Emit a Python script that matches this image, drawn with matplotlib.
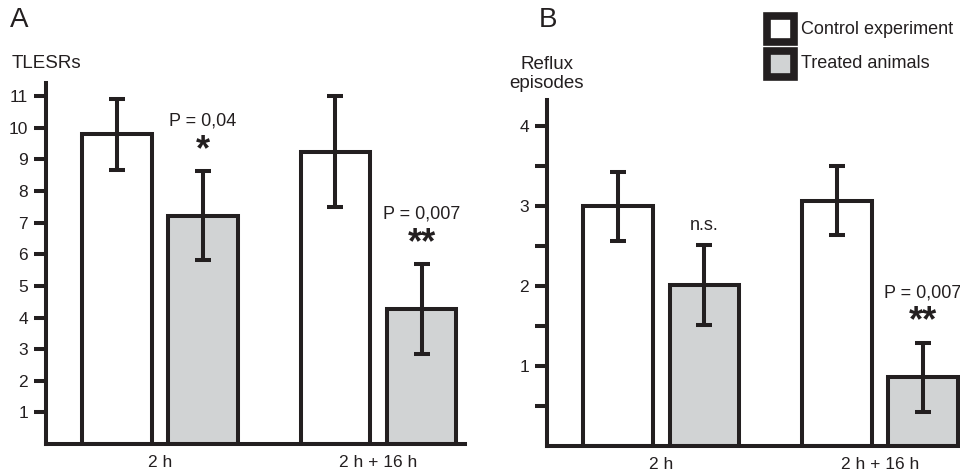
import matplotlib
matplotlib.use('Agg')
import matplotlib.pyplot as plt
from matplotlib.patches import Rectangle

plt.rcParams['font.family'] = ['Liberation Sans', 'DejaVu Sans']

# data
groups = ['2 h', '2 h + 16 h']
series = ['Control experiment', 'Treated animals']

tlesr_control = [9.8, 9.25]
tlesr_control_err = [1.12, 1.75]
tlesr_treated = [7.22, 4.27]
tlesr_treated_err = [1.41, 1.41]

reflux_control = [3.0, 3.07]
reflux_control_err = [0.43, 0.43]
reflux_treated = [2.01, 0.86]
reflux_treated_err = [0.5, 0.43]

tlesr_ticks = list(range(1, 12))
reflux_ticks = [0.5, 1, 1.5, 2, 2.5, 3, 3.5, 4]
reflux_labels = ['', '1', '', '2', '', '3', '', '4']

tlesr_notes = ['P = 0,04', 'P = 0,007']
tlesr_stars = ['*', '**']
reflux_notes = ['n.s.', 'P = 0,007']
reflux_stars = ['', '**']

ink = '#231f20'
grey = '#d1d3d4'
lw = 2.9

W, H = 960, 474
fig = plt.figure(figsize=(9.6, 4.74), dpi=100)


def px_axes(x0, x1, ybase, ytop):
    return fig.add_axes([x0 / W, 1 - ybase / H, (x1 - x0) / W, (ybase - ytop) / H])


def panel(ax, ctrl, ctrl_err, trt, trt_err, ymax, ticks, labels, notes, stars, xmax):
    off = 0.197
    width = 0.318
    xs = [0, 1]
    ax.bar([x - off for x in xs], ctrl, width, color='white', edgecolor=ink,
           linewidth=lw, zorder=2)
    ax.bar([x + off for x in xs], trt, width, color=grey, edgecolor=ink,
           linewidth=lw, zorder=2)
    for x, v, e in zip(xs, ctrl, ctrl_err):
        ax.errorbar(x - off, v, yerr=e, color=ink, elinewidth=lw, capsize=6,
                    capthick=lw, zorder=3, clip_on=False)
    for x, v, e in zip(xs, trt, trt_err):
        ax.errorbar(x + off, v, yerr=e, color=ink, elinewidth=lw, capsize=6,
                    capthick=lw, zorder=3, clip_on=False)
    for x, v, e, n, s in zip(xs, trt, trt_err, notes, stars):
        top = v + e
        ax.annotate(n, (x + off, top), xytext=(0, 36 if s else 14),
                    textcoords='offset points', ha='center', va='center',
                    fontsize=13, color=ink)
        if s:
            ax.annotate(s, (x + off, top), xytext=(0, 15),
                        textcoords='offset points', ha='center', va='center',
                        fontsize=26, fontweight='bold', color=ink)
    ax.set_xlim(-0.522, xmax)
    ax.set_ylim(0, ymax)
    ax.set_yticks(ticks)
    ax.set_yticklabels(labels)
    ax.set_xticks(xs)
    ax.set_xticklabels(groups)
    ax.tick_params(axis='y', length=9, width=lw, color=ink, labelsize=12.5,
                   labelcolor=ink, pad=4)
    ax.tick_params(axis='x', length=0, labelsize=12.5, labelcolor=ink, pad=8)
    for side in ['top', 'right']:
        ax.spines[side].set_visible(False)
    for side in ['left', 'bottom']:
        ax.spines[side].set_linewidth(lw)
        ax.spines[side].set_color(ink)
        ax.spines[side].set_capstyle('projecting')
    ax.patch.set_alpha(0)


axA = px_axes(46, 465, 444, 83)
panel(axA, tlesr_control, tlesr_control_err, tlesr_treated, tlesr_treated_err,
      11.42, tlesr_ticks, [str(t) for t in tlesr_ticks], tlesr_notes,
      tlesr_stars, 1.396)

axB = px_axes(547, 960, 446, 100)
panel(axB, reflux_control, reflux_control_err, reflux_treated,
      reflux_treated_err, 4.33, reflux_ticks, reflux_labels, reflux_notes,
      reflux_stars, 1.366)

# panel letters and axis titles
fig.text(19 / W, 1 - 20 / H, 'A', fontsize=20, ha='center', va='center', color=ink)
fig.text(548 / W, 1 - 20 / H, 'B', fontsize=20, ha='center', va='center', color=ink)
fig.text(12 / W, 1 - 63 / H, 'TLESRs', fontsize=13.5, ha='left', va='center', color=ink)
fig.text(547 / W, 1 - 74 / H, 'Reflux\nepisodes', fontsize=13.5, ha='center',
         va='center', color=ink, linespacing=1.15)

# legend drawn by hand
for i, (name, fc) in enumerate(zip(series, ['white', grey])):
    y0 = 16 + i * 35
    fig.add_artist(Rectangle((767 / W, 1 - (y0 + 26) / H), 27 / W, 26 / H,
                             transform=fig.transFigure, facecolor=fc,
                             edgecolor=ink, linewidth=5.5))
    fig.text(801 / W, 1 - (y0 + 13) / H, name, fontsize=13, ha='left',
             va='center', color=ink)

fig.savefig('out.png', dpi=100)
